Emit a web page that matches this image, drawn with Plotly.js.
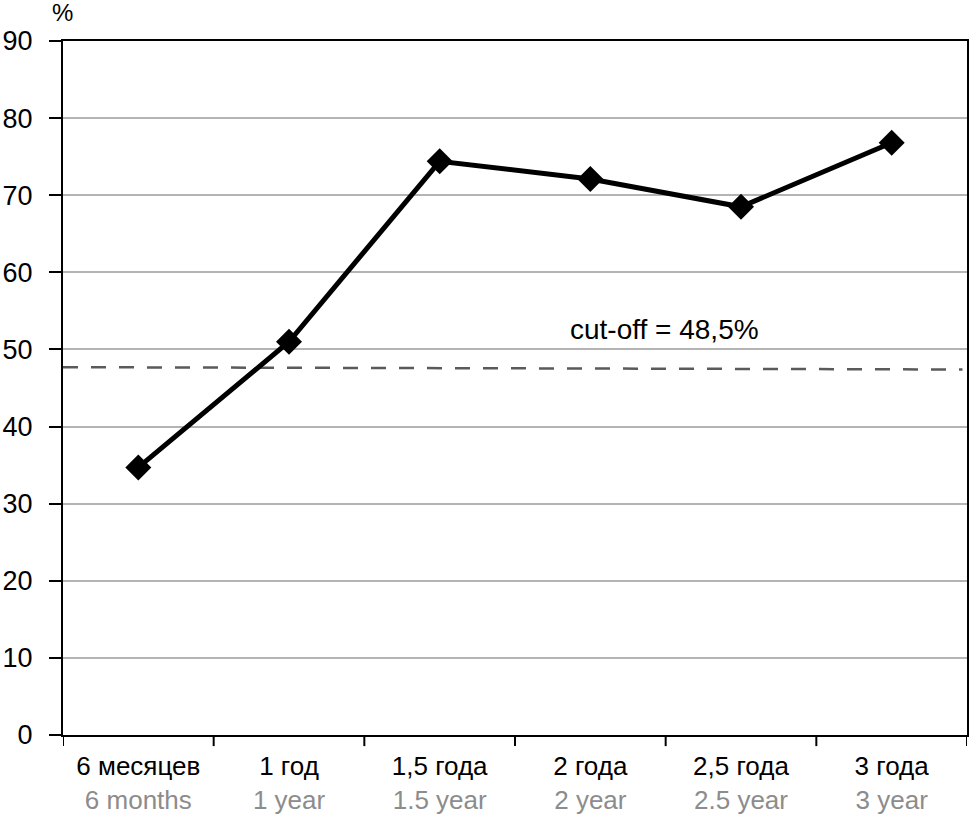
<!DOCTYPE html>
<html>
<head>
<meta charset="utf-8">
<script src="https://cdn.plot.ly/plotly-3.0.1.min.js"></script>
<style>html,body{margin:0;padding:0;background:#fff;}#chart{width:970px;height:817px;}</style>
</head>
<body>
<div id="chart"></div>
<script>
const categoriesRu = ["6 месяцев", "1 год", "1,5 года", "2 года", "2,5 года", "3 года"];
const categoriesEn = ["6 months", "1 year", "1.5 year", "2 year", "2.5 year", "3 year"];
const values = [34.7, 51.0, 74.4, 72.1, 68.5, 76.8];
const cutoffLabel = "cut-off = 48,5%";
const cutoffX = [-0.5, 5.47];
const cutoffY = [47.7, 47.4];
const yTicks = [0, 10, 20, 30, 40, 50, 60, 70, 80, 90];

const FONT = "'Liberation Sans', Arial, sans-serif";
const xIdx = categoriesRu.map((_, i) => i);
const tickText = categoriesRu.map((c, i) => c + "<br><span style='color:#8c8c8c'>" + categoriesEn[i] + "</span>");

const traces = [
  {
    x: cutoffX, y: cutoffY, type: "scatter", mode: "lines",
    line: {color: "#5a5a5a", width: 2.5, dash: "15px,13px"},
    hoverinfo: "skip", showlegend: false
  },
  {
    x: xIdx, y: values, type: "scatter", mode: "lines+markers",
    line: {color: "#000000", width: 5},
    marker: {symbol: "diamond", size: 20, color: "#000000"},
    showlegend: false
  }
];

const layout = {
  width: 970, height: 817,
  margin: {l: 63, r: 3, t: 41, b: 82},
  paper_bgcolor: "#ffffff", plot_bgcolor: "#ffffff",
  font: {family: FONT, size: 26, color: "#000"},
  showlegend: false,
  xaxis: {
    range: [-0.5, 5.5],
    tickmode: "array", tickvals: xIdx, ticktext: tickText,
    showgrid: false, zeroline: false,
    showline: true, linecolor: "#000", linewidth: 2, mirror: true,
    ticks: "", ticklabelstandoff: 7,
    tickfont: {family: FONT, size: 26, color: "#000"},
    fixedrange: true
  },
  yaxis: {
    range: [0, 90],
    tickmode: "array", tickvals: yTicks,
    showgrid: true, gridcolor: "#b4b4b4", gridwidth: 2,
    zeroline: false,
    showline: true, linecolor: "#000", linewidth: 2, mirror: true,
    ticks: "outside", ticklen: 12, tickwidth: 2, tickcolor: "#000",
    ticklabelstandoff: 11,
    tickfont: {family: FONT, size: 27, color: "#000"},
    fixedrange: true
  },
  shapes: [0, 1, 2, 3, 4, 5, 6].map(k => ({
    type: "line", xref: "x", yref: "paper",
    x0: k - 0.5, x1: k - 0.5, y0: 0, y1: -0.016,
    line: {color: "#000", width: 2}
  })),
  annotations: [
    {text: cutoffLabel, xref: "paper", yref: "paper", x: 0.665, y: 0.585,
     xanchor: "center", yanchor: "middle",
     showarrow: false, font: {family: FONT, size: 28, color: "#000"}},
    {text: "%", xref: "paper", yref: "paper", x: 0, xshift: -1, y: 1.0, yshift: 29,
     xanchor: "center", yanchor: "middle", showarrow: false,
     font: {family: FONT, size: 24, color: "#000"}}
  ]
};

Plotly.newPlot("chart", traces, layout, {displayModeBar: false, staticPlot: true});
</script>
</body>
</html>
